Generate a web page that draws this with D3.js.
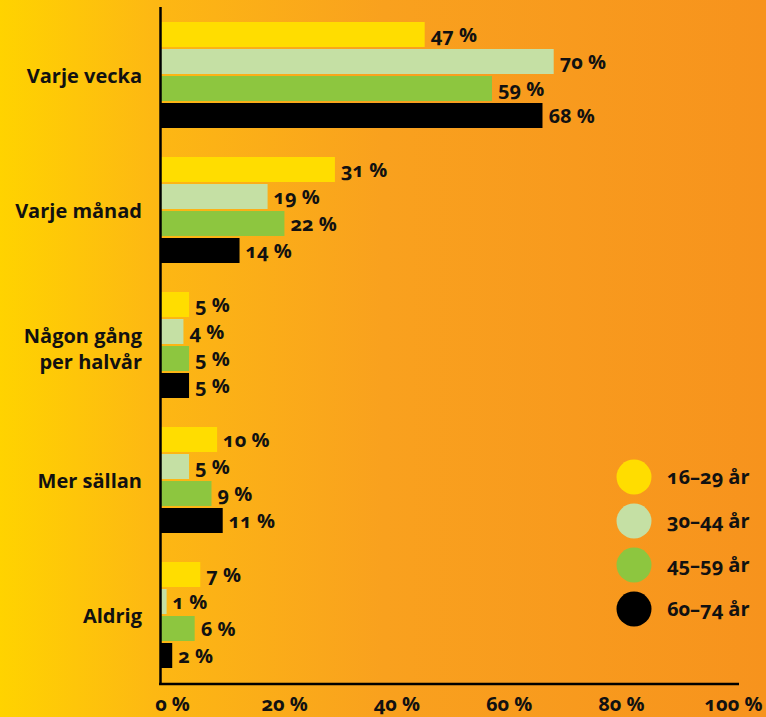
<!DOCTYPE html>
<html>
<head>
<meta charset="utf-8">
<script src="https://cdn.jsdelivr.net/npm/d3@7"></script>
<style>
  html, body { margin: 0; padding: 0; overflow: hidden; }
  svg { display: block; }
  text { font-family: "Open Sans", "Noto Sans", sans-serif; font-weight: 700; fill: #111; font-variant-numeric: oldstyle-nums; }
</style>
</head>
<body>
<svg id="chart" width="766" height="717"></svg>
<script>
const categories = ["Varje vecka", "Varje månad", "Någon gång per halvår", "Mer sällan", "Aldrig"];
const categoryLines = [["Varje vecka"], ["Varje månad"], ["Någon gång", "per halvår"], ["Mer sällan"], ["Aldrig"]];
const seriesNames = ["16–29 år", "30–44 år", "45–59 år", "60–74 år"];
const seriesColors = ["#FFDD00", "#C5E0A4", "#8DC63F", "#000000"];
const s16_29 = [47, 31, 5, 10, 7];
const s30_44 = [70, 19, 4, 5, 1];
const s45_59 = [59, 22, 5, 9, 6];
const s60_74 = [68, 14, 5, 11, 2];
const seriesValues = [s16_29, s30_44, s45_59, s60_74];
const tickValues = [0, 20, 40, 60, 80, 100];

const W = 766, H = 717;
const svg = d3.select("#chart");

// background gradient
const defs = svg.append("defs");
const grad = defs.append("linearGradient").attr("id", "bg").attr("x1", "0").attr("x2", "1").attr("y1", "0").attr("y2", "0");
[[0, "#FFD300"], [0.2, "#FDB813"], [0.5, "#F9A11E"], [1, "#F7931D"]].forEach(([o, c]) =>
  grad.append("stop").attr("offset", o).attr("stop-color", c));
svg.append("rect").attr("width", W).attr("height", H).attr("fill", "url(#bg)");

const x = d3.scaleLinear().domain([0, 100]).range([161, 722]);
const y = d3.scaleBand().domain(categories).range([22, 668]).paddingInner(29 / 135).paddingOuter(0);
const yInner = d3.scaleBand().domain(seriesNames).range([0, y.bandwidth()]).paddingInner(2 / 27).paddingOuter(0);

// bars
const groups = svg.append("g").selectAll("g").data(categories).join("g")
  .attr("transform", d => `translate(0,${y(d)})`);

groups.each(function (cat, ci) {
  const g = d3.select(this);
  const rows = seriesNames.map((s, si) => ({ s, si, v: seriesValues[si][ci] }));
  g.selectAll("rect").data(rows).join("rect")
    .attr("x", x(0))
    .attr("y", d => yInner(d.s))
    .attr("width", d => x(d.v) - x(0))
    .attr("height", yInner.bandwidth())
    .attr("fill", d => seriesColors[d.si]);
  g.selectAll("text.val").data(rows).join("text")
    .attr("class", "val")
    .attr("x", d => x(d.v) + 6)
    .attr("y", d => yInner(d.s) + yInner.bandwidth() / 2 + 7.5)
    .attr("font-size", 20)
    .text(d => d.v + " %");
});

// category labels
categories.forEach((cat, ci) => {
  const lines = categoryLines[ci];
  const cy = y(cat) + y.bandwidth() / 2;
  const t = svg.append("text").attr("text-anchor", "end").attr("font-size", 20);
  lines.forEach((ln, li) => {
    t.append("tspan").attr("x", 142)
      .attr("y", cy + 8 + (li - (lines.length - 1) / 2) * 26 + (lines.length > 1 ? 3 : 0))
      .text(ln);
  });
});

// axes lines
svg.append("line").attr("x1", 160.5).attr("x2", 160.5).attr("y1", 7).attr("y2", 685)
  .attr("stroke", "#000").attr("stroke-width", 2.5);
svg.append("line").attr("x1", 159).attr("x2", 739).attr("y1", 684).attr("y2", 684)
  .attr("stroke", "#000").attr("stroke-width", 2.5);

// x axis tick labels
const xAxis = d3.axisBottom(x).tickValues(tickValues).tickSize(0).tickPadding(0).tickFormat(d => d + " %");
const ax = svg.append("g").attr("transform", "translate(0,711)").call(xAxis);
ax.select(".domain").remove();
ax.selectAll("text")
  .attr("dx", 11)
  .attr("y", 0)
  .attr("dy", 0)
  .attr("font-size", 20)
  .attr("font-family", null)
  .style("font-family", '"Open Sans", "Noto Sans", sans-serif')
  .attr("fill", "#111");

// legend
const leg = svg.append("g").selectAll("g").data(seriesNames).join("g")
  .attr("transform", (d, i) => `translate(634,${477 + i * 44})`);
leg.append("circle").attr("r", 17.5).attr("fill", (d, i) => seriesColors[i]);
leg.append("text").attr("x", 33).attr("y", 7).attr("font-size", 20).text(d => d);
</script>
</body>
</html>
